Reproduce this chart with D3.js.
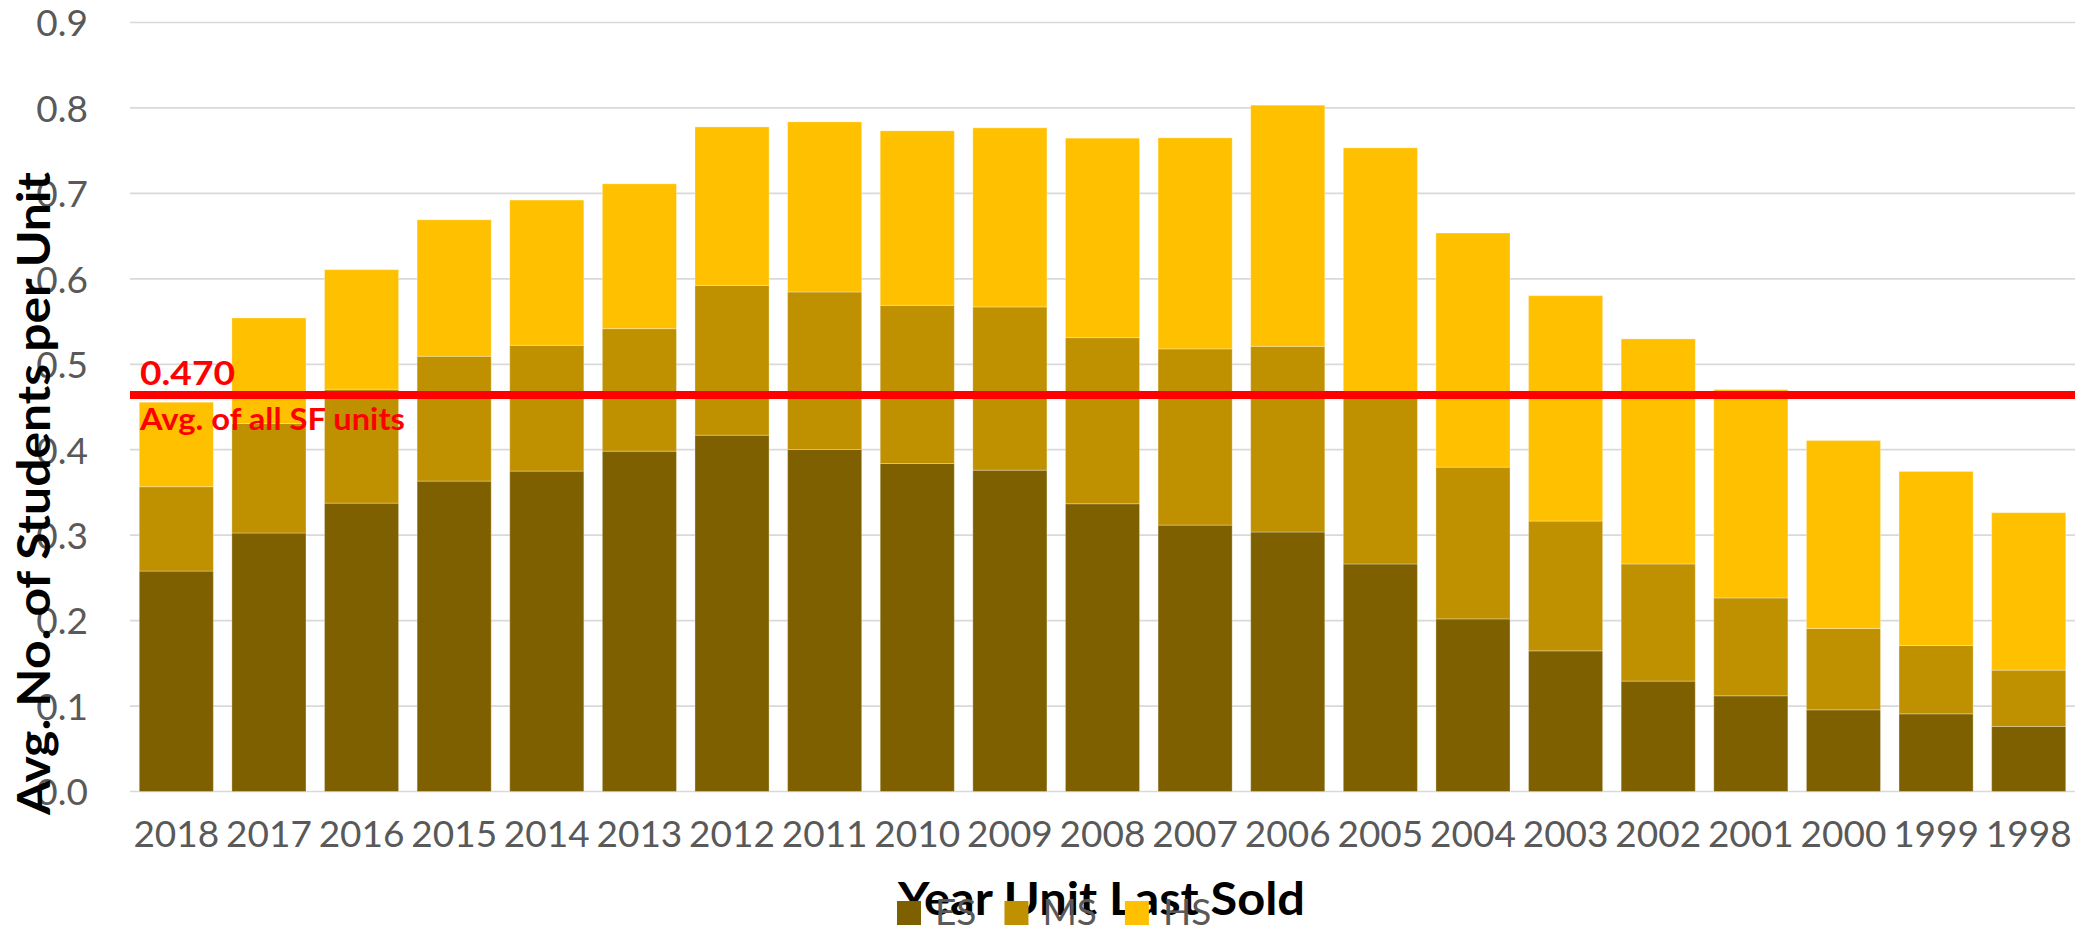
<!DOCTYPE html>
<html>
<head>
<meta charset="utf-8">
<script src="https://cdn.jsdelivr.net/npm/d3@7"></script>
<style>
  html, body { margin: 0; padding: 0; background: #ffffff; }
  svg { display: block; }
</style>
</head>
<body>
<svg id="chart" width="2089" height="929"></svg>
<script>
// ---- data ----
const years = ["2018","2017","2016","2015","2014","2013","2012","2011","2010","2009","2008",
               "2007","2006","2005","2004","2003","2002","2001","2000","1999","1998"];
const seriesNames = ["ES", "MS", "HS"];
const esValues = [0.258, 0.3025, 0.3375, 0.3633, 0.375, 0.3983, 0.417, 0.4003, 0.3839, 0.3761, 0.3368,
                  0.3118, 0.3037, 0.2663, 0.202, 0.1646, 0.1292, 0.112, 0.0956, 0.0909, 0.0762];
const msValues = [0.0987, 0.1282, 0.1333, 0.1461, 0.1472, 0.1434, 0.1753, 0.1843, 0.1851, 0.191, 0.1944,
                  0.2062, 0.2173, 0.1987, 0.1776, 0.1519, 0.1371, 0.1145, 0.0951, 0.08, 0.0658];
const hsValues = [0.0989, 0.1235, 0.1399, 0.1597, 0.17, 0.1695, 0.1855, 0.1991, 0.2042, 0.2096, 0.2334,
                  0.247, 0.2822, 0.2883, 0.274, 0.2638, 0.2634, 0.2439, 0.2201, 0.2037, 0.1843];
const yTicks = [0, 0.1, 0.2, 0.3, 0.4, 0.5, 0.6, 0.7, 0.8, 0.9];
const avgLineValue = 0.464;
const avgLabel = "0.470";
const avgCaption = "Avg. of all SF units";
const xTitle = "Year Unit Last Sold";
const yTitle = "Avg. No. of Students per Unit";

// ---- styles ----
const colors = { ES: "#7F6000", MS: "#BF9000", HS: "#FFC000" };
const FONT = "Lato, 'Open Sans', sans-serif";

const svg = d3.select("#chart");
const margin = { left: 130, right: 2089 - 2075, top: 22.5, bottom: 929 - 791.5 };
const W = 2089, H = 929;

const table = years.map((y, i) => ({ year: y, ES: esValues[i], MS: msValues[i], HS: hsValues[i] }));
const stacked = d3.stack().keys(seriesNames)(table);

const x = d3.scaleBand().domain(years)
  .range([margin.left, W - margin.right])
  .paddingInner(0.2).paddingOuter(0.1);
const y = d3.scaleLinear().domain([0, 0.9]).range([H - margin.bottom, margin.top]);

// gridlines
svg.append("g").selectAll("line").data(yTicks).join("line")
  .attr("x1", margin.left).attr("x2", W - margin.right)
  .attr("y1", d => y(d)).attr("y2", d => y(d))
  .attr("stroke", "#d9d9d9").attr("stroke-width", 1.7);

// y axis labels
const yAxis = d3.axisLeft(y).tickValues(yTicks).tickFormat(d3.format(".1f")).tickSize(0).tickPadding(0);
const yg = svg.append("g").attr("transform", `translate(88,0)`).call(yAxis);
yg.select(".domain").remove();
yg.selectAll("text").attr("font-family", FONT).attr("font-size", 37).attr("fill", "#595959")
  .attr("dy", "0.36em");

// bars
svg.append("g").selectAll("g").data(stacked).join("g")
  .attr("fill", d => colors[d.key])
  .selectAll("rect").data(d => d).join("rect")
  .attr("x", d => x(d.data.year))
  .attr("width", x.bandwidth())
  .attr("y", d => y(d[1]))
  .attr("height", d => y(d[0]) - y(d[1]))
  .attr("stroke", "rgba(255,255,255,0.3)").attr("stroke-width", 1);

// x axis labels
const xAxis = d3.axisBottom(x).tickSize(0).tickPadding(0);
const xg = svg.append("g").attr("transform", `translate(0,847)`).call(xAxis);
xg.select(".domain").remove();
xg.selectAll("text").attr("font-family", FONT).attr("font-size", 37).attr("fill", "#595959")
  .attr("dy", 0).attr("y", 0);

// average line
svg.append("line")
  .attr("x1", margin.left).attr("x2", W - margin.right)
  .attr("y1", y(avgLineValue)).attr("y2", y(avgLineValue))
  .attr("stroke", "#FF0000").attr("stroke-width", 8);
svg.append("text").attr("x", 140).attr("y", y(avgLineValue) - 10)
  .attr("font-family", FONT).attr("font-weight", "bold").attr("font-size", 33)
  .attr("fill", "#FF0000").attr("textLength", 95).attr("lengthAdjust", "spacingAndGlyphs")
  .text(avgLabel);
svg.append("text").attr("x", 140).attr("y", y(avgLineValue) + 35)
  .attr("font-family", FONT).attr("font-weight", "bold").attr("font-size", 30)
  .attr("fill", "#FF0000").attr("textLength", 265).attr("lengthAdjust", "spacingAndGlyphs")
  .text(avgCaption);

// axis titles
svg.append("text").attr("x", 898).attr("y", 915)
  .attr("font-family", FONT).attr("font-weight", "bold").attr("font-size", 46)
  .attr("fill", "#000000").attr("textLength", 407).attr("lengthAdjust", "spacingAndGlyphs")
  .text(xTitle);
svg.append("text").attr("transform", "translate(50,815) rotate(-90)")
  .attr("x", 0).attr("y", 0)
  .attr("font-family", FONT).attr("font-weight", "bold").attr("font-size", 46)
  .attr("fill", "#000000").attr("textLength", 643).attr("lengthAdjust", "spacingAndGlyphs")
  .text(yTitle);

// legend
const legend = svg.append("g");
let lx = 897;
seriesNames.forEach(name => {
  legend.append("rect").attr("x", lx).attr("y", 901).attr("width", 24).attr("height", 24)
    .attr("fill", colors[name]);
  const t = legend.append("text").attr("x", lx + 38).attr("y", 925)
    .attr("font-family", FONT).attr("font-size", 37).attr("fill", "#595959").text(name);
  lx += 38 + t.node().getComputedTextLength() + 28;
});
</script>
</body>
</html>
